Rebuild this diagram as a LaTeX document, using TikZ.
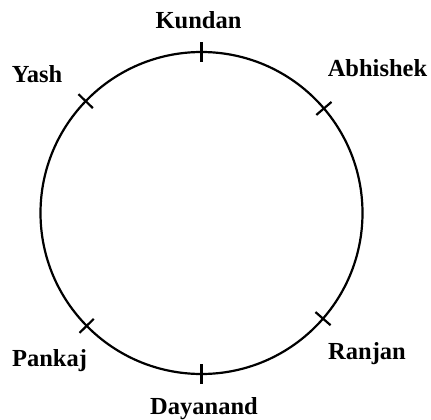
\documentclass[tikz,border=0pt]{standalone}
\usepackage{fontspec}
\setmainfont{Liberation Serif}
\usetikzlibrary{calc}
\tikzset{
  lbl/.style={anchor=base, inner sep=0pt, font=\fontsize{24.5}{28}\selectfont\bfseries},
  ring/.style={line width=2.2pt},
  tick/.style={line width=2.2pt},
}
\begin{document}
\begin{tikzpicture}[x=1pt,y=-1pt]
\useasboundingbox (0,0) rectangle (431,420);
\coordinate (c) at (201.5,213);
\draw[ring] (c) circle[radius=161];
\foreach \a/\n in {-90/kt,-136/yt,-40.5/at,135.5/pt,41/rt,90/dt}{
  \draw[tick] ($(c)+(\a:151)$) coordinate (\n i) -- ($(c)+(\a:171)$) coordinate (\n o);
}
\node[lbl] (kundan) at (198.5,29) {Kundan};
\node[lbl] (yash) at (37,82) {Yash};
\node[lbl] (abhishek) at (377.5,77) {Abhishek};
\node[lbl] (pankaj) at (49.5,366) {Pankaj};
\node[lbl] (ranjan) at (367,359) {Ranjan};
\node[lbl] (dayanand) at (204,414) {Dayanand};
\end{tikzpicture}
\end{document}
